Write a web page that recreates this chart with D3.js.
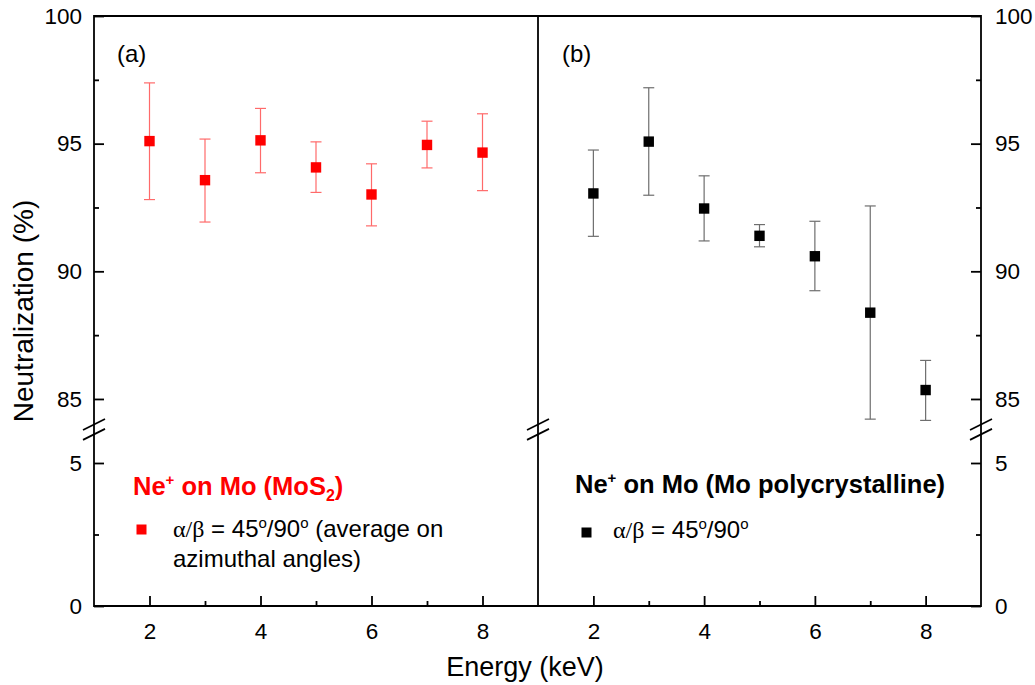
<!DOCTYPE html>
<html>
<head>
<meta charset="utf-8">
<script src="https://cdn.jsdelivr.net/npm/d3@7"></script>
<style>
  html, body { margin: 0; padding: 0; background: #fff; }
  svg { display: block; }
  text { font-family: "Liberation Sans", Arial, sans-serif; }
</style>
</head>
<body>
<svg id="chart" width="1035" height="685"></svg>
<script>
// ---- data ----
const energies = [2, 3, 4, 5, 6, 7, 8];
const mos2 = [95.10, 93.57, 95.13, 94.07, 93.01, 94.95, 94.65];
const mos2Hi = [97.38, 95.18, 96.38, 95.07, 94.21, 95.88, 96.17];
const mos2Lo = [92.81, 91.93, 93.86, 93.09, 91.78, 94.05, 93.16];
const moPoly = [93.05, 95.08, 92.46, 91.39, 90.59, 88.38, 85.35];
const moPolyHi = [94.75, 97.19, 93.74, 91.83, 91.96, 92.56, 86.51];
const moPolyLo = [91.37, 92.98, 91.19, 90.96, 89.24, 84.21, 84.16];
const xTicks = [2, 4, 6, 8];
const xMinor = [3, 5, 7];
const yUpperTicks = [85, 90, 95, 100];
const yUpperMinor = [87.5, 92.5, 97.5];
const yLowerTicks = [0, 5];
const yLowerMinor = [2.5];

const svg = d3.select("#chart");
const L = 94, M = 538, R = 981, T = 16, B = 606;
const xA = d3.scaleLinear().domain([1, 9]).range([L, M]);
const xB = d3.scaleLinear().domain([1, 9]).range([M, R]);
const yU = d3.scaleLinear().domain([84, 100]).range([424.5, T]);
const yL = d3.scaleLinear().domain([0, 6]).range([B, 434.4]);

function styleAxis(g, fs) {
  g.select(".domain").remove();
  g.selectAll(".tick line").attr("stroke", "#000").attr("stroke-width", 1.8);
  g.selectAll(".tick text").attr("fill", "#000").style("font-size", fs + "px")
    .style("font-family", '"Liberation Sans", Arial, sans-serif');
}

// y axes left & right
[[yU, yUpperTicks, yUpperMinor], [yL, yLowerTicks, yLowerMinor]].forEach(([s, tk, mn]) => {
  svg.append("g").attr("transform", `translate(${L},0)`)
    .call(d3.axisLeft(s).tickValues(tk).tickSize(-10).tickPadding(12).tickFormat(d3.format("d")))
    .call(g => styleAxis(g, 22.5));
  svg.append("g").attr("transform", `translate(${L},0)`)
    .call(d3.axisLeft(s).tickValues(mn).tickSize(-5).tickFormat(""))
    .call(g => styleAxis(g, 22.5));
  svg.append("g").attr("transform", `translate(${R},0)`)
    .call(d3.axisRight(s).tickValues(tk).tickSize(-10).tickPadding(14).tickFormat(d3.format("d")))
    .call(g => styleAxis(g, 22.5));
  svg.append("g").attr("transform", `translate(${R},0)`)
    .call(d3.axisRight(s).tickValues(mn).tickSize(-5).tickFormat(""))
    .call(g => styleAxis(g, 22.5));
});

// x axes
[xA, xB].forEach(s => {
  svg.append("g").attr("transform", `translate(0,${B})`)
    .call(d3.axisBottom(s).tickValues(xTicks).tickSize(-10).tickPadding(17).tickFormat(d3.format("d")))
    .call(g => styleAxis(g, 22.5));
  svg.append("g").attr("transform", `translate(0,${B})`)
    .call(d3.axisBottom(s).tickValues(xMinor).tickSize(-5).tickFormat(""))
    .call(g => styleAxis(g, 22.5));
});

// frame
const frame = svg.append("g").attr("stroke", "#000").attr("stroke-width", 1.8).attr("fill", "none");
frame.append("line").attr("x1", L).attr("x2", R).attr("y1", T).attr("y2", T);
frame.append("line").attr("x1", L).attr("x2", R).attr("y1", B).attr("y2", B);
[L, M, R].forEach(x => {
  frame.append("line").attr("x1", x).attr("x2", x).attr("y1", T - 0.9).attr("y2", B + 0.9);
  // break marks
  [yU(84), yL(6)].forEach(yb => {
    frame.append("line").attr("x1", x - 11).attr("y1", yb + 5.5).attr("x2", x + 11).attr("y2", yb - 5.5);
  });
});

// series
function drawSeries(xs, vals, hi, lo, color, barColor) {
  const g = svg.append("g");
  energies.forEach((e, i) => {
    const cx = xs(e);
    g.append("line").attr("x1", cx).attr("x2", cx).attr("y1", yU(hi[i])).attr("y2", yU(lo[i]))
      .attr("stroke", barColor).attr("stroke-width", 1.2);
    [hi[i], lo[i]].forEach(v => {
      g.append("line").attr("x1", cx - 5.5).attr("x2", cx + 5.5).attr("y1", yU(v)).attr("y2", yU(v))
        .attr("stroke", barColor).attr("stroke-width", 1.2);
    });
  });
  energies.forEach((e, i) => {
    g.append("rect").attr("x", xs(e) - 5.2).attr("y", yU(vals[i]) - 5.2)
      .attr("width", 10.4).attr("height", 10.4).attr("fill", color);
  });
}
drawSeries(xA, mos2, mos2Hi, mos2Lo, "#ff0000", "#ff6a6a");
drawSeries(xB, moPoly, moPolyHi, moPolyLo, "#000000", "#6e6e6e");

// panel labels
svg.append("text").attr("x", 117).attr("y", 62).style("font-size", "24px").text("(a)");
svg.append("text").attr("x", 562).attr("y", 62).style("font-size", "24px").text("(b)");

// axis titles
svg.append("text").attr("x", 525).attr("y", 676).attr("text-anchor", "middle")
  .style("font-size", "27px").text("Energy (keV)");
svg.append("text").attr("transform", "translate(33,311) rotate(-90)").attr("text-anchor", "middle")
  .style("font-size", "28px").text("Neutralization (%)");

// legends
function header(x, y, color, parts) {
  const t = svg.append("text").attr("x", x).attr("y", y).attr("fill", color)
    .style("font-size", "25.5px").style("font-weight", "bold");
  parts.forEach(p => {
    const ts = t.append("tspan").text(p.t);
    if (p.sup) ts.style("font-size", "15px").attr("dy", -10);
    else if (p.sub) ts.style("font-size", "16px").attr("dy", 6);
    else if (p.back) ts.attr("dy", p.back);
  });
}
header(133, 495, "#ff0000", [{t: "Ne"}, {t: "+", sup: true}, {t: " on Mo (MoS", back: 10}, {t: "2", sub: true}, {t: ")", back: -6}]);
header(575, 493, "#000", [{t: "Ne"}, {t: "+", sup: true}, {t: " on Mo (Mo polycrystalline)", back: 10}]);

function itemText(x, y, extra) {
  const t = svg.append("text").attr("x", x).attr("y", y).style("font-size", "24px");
  t.append("tspan").style("font-family", '"Liberation Serif", serif').text("α/β");
  t.append("tspan").text(" = 45");
  t.append("tspan").style("font-size", "15px").attr("dy", -9).text("o");
  t.append("tspan").attr("dy", 9).text("/90");
  t.append("tspan").style("font-size", "15px").attr("dy", -9).text("o");
  if (extra) t.append("tspan").attr("dy", 9).text(extra);
  return t;
}
svg.append("rect").attr("x", 141.5 - 5).attr("y", 529.5 - 5).attr("width", 10).attr("height", 10).attr("fill", "#ff0000");
itemText(173, 537, " (average on");
svg.append("text").attr("x", 173).attr("y", 567).style("font-size", "24px").text("azimuthal angles)");
svg.append("rect").attr("x", 586.5 - 5).attr("y", 532.5 - 5).attr("width", 10).attr("height", 10).attr("fill", "#000");
itemText(613, 538, null);
</script>
</body>
</html>
